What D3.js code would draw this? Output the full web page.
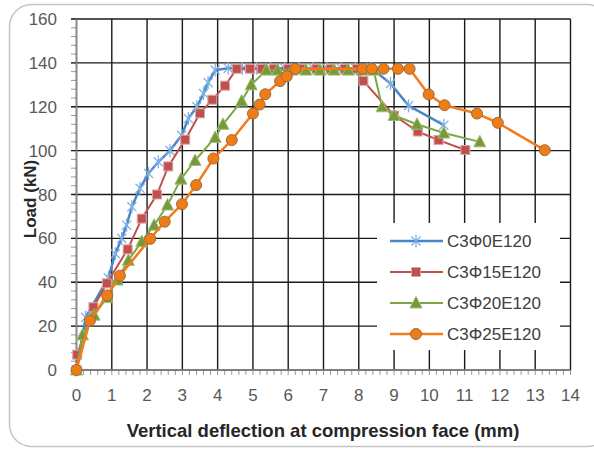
<!DOCTYPE html>
<html><head><meta charset="utf-8">
<script src="https://cdn.jsdelivr.net/npm/d3@7"></script>
<style>body{margin:0;background:#fff;}svg{display:block;}</style>
</head><body><svg id="c" width="594" height="450"></svg>
<script>
// ---- data ----
const xTicks = [0,1,2,3,4,5,6,7,8,9,10,11,12,13,14];
const yTicks = [0,20,40,60,80,100,120,140,160];
const seriesNames = ["C3Φ0E120","C3Φ15E120","C3Φ20E120","C3Φ25E120"];
const s0x = [0,0.26,0.9,1.1,1.28,1.42,1.57,1.8,2.04,2.32,2.65,2.98,3.17,3.41,3.6,3.73,3.93,4.3,4.7,5.1,5.5,5.9,6.3,6.7,7.1,7.5,7.9,8.35,8.9,9.41,10.41];
const s0y = [0,24,42,53,60,66,74.4,82.8,89.6,94.9,100,107,114.6,120,126,131,136.7,137.6,137.6,137.6,137.6,137.6,137.6,137.6,137.6,137.6,137.6,137.6,130.6,120.5,111.6];
const s1x = [0,0.02,0.48,0.86,1.45,1.85,2.28,2.6,3.08,3.5,3.85,4.21,4.54,4.92,5.25,5.6,6.0,6.4,6.8,7.2,7.6,7.95,8.13,9.0,9.67,10.26,11.02];
const s1y = [0,7,28.6,39.5,55,69,80,92.8,105,117,123.2,129.6,137.3,137.3,137.3,137.3,137.3,137.3,137.3,137.3,137.3,137.3,131.8,116,108.7,104.8,100.3];
const s2x = [0,0.17,0.5,0.86,1.15,1.47,1.85,2.2,2.58,2.96,3.36,3.93,4.15,4.68,4.95,5.38,5.7,6.1,6.5,6.9,7.3,7.7,8.1,8.42,8.66,9.0,9.65,10.41,11.43];
const s2y = [0,16,25,33,41,50,58.5,66,75.2,87,95.5,106,112,122.6,130,136.7,136.7,136.7,136.7,136.7,136.7,136.7,136.7,136.7,120,116,112,108,104];
const s3x = [0,0.38,0.87,1.23,2.09,2.5,2.99,3.39,3.88,4.4,5.0,5.19,5.35,5.77,5.96,6.2,8.11,8.37,8.7,9.11,9.44,9.98,10.43,11.35,11.94,13.27];
const s3y = [0,22.5,34,43,59.8,67.6,75.6,84.3,96.4,104.8,116.9,121,125.7,131.7,133.9,137.3,137.3,137.3,137.3,137.3,137.3,125.6,120.7,116.9,112.7,100.2];

const svg = d3.select("#c");
const font = "'Liberation Sans', Arial, sans-serif";
const x = d3.scaleLinear().domain([0,14]).range([76.5,570.5]);
const y = d3.scaleLinear().domain([0,160]).range([370,19]);

// outer border
svg.append("rect").attr("x",9.5).attr("y",4.5).attr("width",600).attr("height",442)
  .attr("rx",22).attr("fill","none").attr("stroke","#c4c4c4").attr("stroke-width",1.5);

// minor ticks
const g = svg.append("g");
const xMinor = d3.range(0,14.001,0.2);
g.selectAll(".xm").data(xMinor).join("line")
  .attr("x1",d=>x(d)).attr("x2",d=>x(d)).attr("y1",370).attr("y2",375)
  .attr("stroke","#999").attr("stroke-width",1);
const yMinor = d3.range(0,160.001,4);
g.selectAll(".ym").data(yMinor).join("line")
  .attr("x1",71).attr("x2",76.5).attr("y1",d=>y(d)).attr("y2",d=>y(d))
  .attr("stroke","#999").attr("stroke-width",1);

// grid
g.selectAll(".gx").data(xTicks).join("line")
  .attr("x1",d=>x(d)).attr("x2",d=>x(d)).attr("y1",y(160)).attr("y2",y(0))
  .attr("stroke","#1a1a1a").attr("stroke-width",1.4);
g.selectAll(".gy").data(yTicks).join("line")
  .attr("x1",71).attr("x2",x(14)).attr("y1",d=>y(d)).attr("y2",d=>y(d))
  .attr("stroke","#1a1a1a").attr("stroke-width",1.4);
// axes lines
svg.append("line").attr("x1",x(0)).attr("x2",x(0)).attr("y1",y(160)).attr("y2",y(0)).attr("stroke","#8c8c8c").attr("stroke-width",1.4);
svg.append("line").attr("x1",x(0)).attr("x2",x(14)).attr("y1",y(0)).attr("y2",y(0)).attr("stroke","#8c8c8c").attr("stroke-width",1.4);

// tick labels
svg.selectAll(".xl").data(xTicks).join("text")
  .attr("x",d=>x(d)).attr("y",401).attr("text-anchor","middle")
  .attr("font-family",font).attr("font-size",17).attr("fill","#595959").text(d=>d);
svg.selectAll(".yl").data(yTicks).join("text")
  .attr("x",57).attr("y",d=>y(d)+6).attr("text-anchor","end")
  .attr("font-family",font).attr("font-size",17).attr("fill","#595959").text(d=>d);

// axis titles
svg.append("text").attr("x",323).attr("y",437).attr("text-anchor","middle")
  .attr("font-family",font).attr("font-weight","bold").attr("font-size",18.5).attr("fill","#262626")
  .text("Vertical deflection at compression face (mm)");
svg.append("text").attr("transform","translate(36,199) rotate(-90)").attr("text-anchor","middle")
  .attr("font-family",font).attr("font-weight","bold").attr("font-size",17).attr("fill","#262626")
  .text("Load (kN)");

// series
const styles = [
  {line:"#4a86c8", w:2.5, mk:"ast", fill:"none", stroke:"#7fb0e6"},
  {line:"#c0504d", w:2, mk:"sq", fill:"#c0504d", stroke:"#d9a8a6"},
  {line:"#7fa646", w:2, mk:"tri", fill:"#77993c", stroke:"#9fbf70"},
  {line:"#f27b1a", w:2.5, mk:"circ", fill:"#f07d14", stroke:"#9a6a42"}
];
const data = [[s0x,s0y],[s1x,s1y],[s2x,s2y],[s3x,s3y]].map(([a,b])=>a.map((v,i)=>[v,b[i]]));

function marker(sel, st, cx, cy){
  if(st.mk==="ast"){
    const r=6.5;
    sel.append("path").attr("d",`M${cx-r*0.7},${cy-r*0.7}L${cx+r*0.7},${cy+r*0.7}M${cx-r*0.7},${cy+r*0.7}L${cx+r*0.7},${cy-r*0.7}M${cx},${cy-r}L${cx},${cy+r}`)
      .attr("stroke",st.stroke).attr("stroke-width",1.3).attr("fill","none");
  } else if(st.mk==="sq"){
    sel.append("rect").attr("x",cx-4.5).attr("y",cy-4.5).attr("width",9).attr("height",9)
      .attr("fill",st.fill).attr("stroke",st.stroke).attr("stroke-width",1);
  } else if(st.mk==="tri"){
    sel.append("path").attr("d",`M${cx},${cy-6.5}L${cx+6},${cy+5}L${cx-6},${cy+5}Z`)
      .attr("fill",st.fill).attr("stroke",st.stroke).attr("stroke-width",1);
  } else {
    sel.append("circle").attr("cx",cx).attr("cy",cy).attr("r",5.5)
      .attr("fill",st.fill).attr("stroke",st.stroke).attr("stroke-width",1);
  }
}
const line = d3.line().x(d=>x(d[0])).y(d=>y(d[1]));
data.forEach((pts,i)=>{
  const st = styles[i];
  const sg = svg.append("g");
  sg.append("path").datum(pts).attr("d",line).attr("fill","none")
    .attr("stroke",st.line).attr("stroke-width",st.w).attr("stroke-linejoin","round");
  pts.forEach(p=>marker(sg,st,x(p[0]),y(p[1])));
});

// legend
const lg = svg.append("g");
lg.append("rect").attr("x",377).attr("y",223).attr("width",183).attr("height",127).attr("fill","#fff");
seriesNames.forEach((n,i)=>{
  const st = styles[i];
  const ly = 241 + i*31;
  lg.append("line").attr("x1",390).attr("x2",443).attr("y1",ly).attr("y2",ly)
    .attr("stroke",st.line).attr("stroke-width",st.w);
  marker(lg,st,416,ly);
  lg.append("text").attr("x",447).attr("y",ly+6).attr("font-family",font).attr("font-size",17)
    .attr("fill","#404040").text(n);
});
</script></body></html>
